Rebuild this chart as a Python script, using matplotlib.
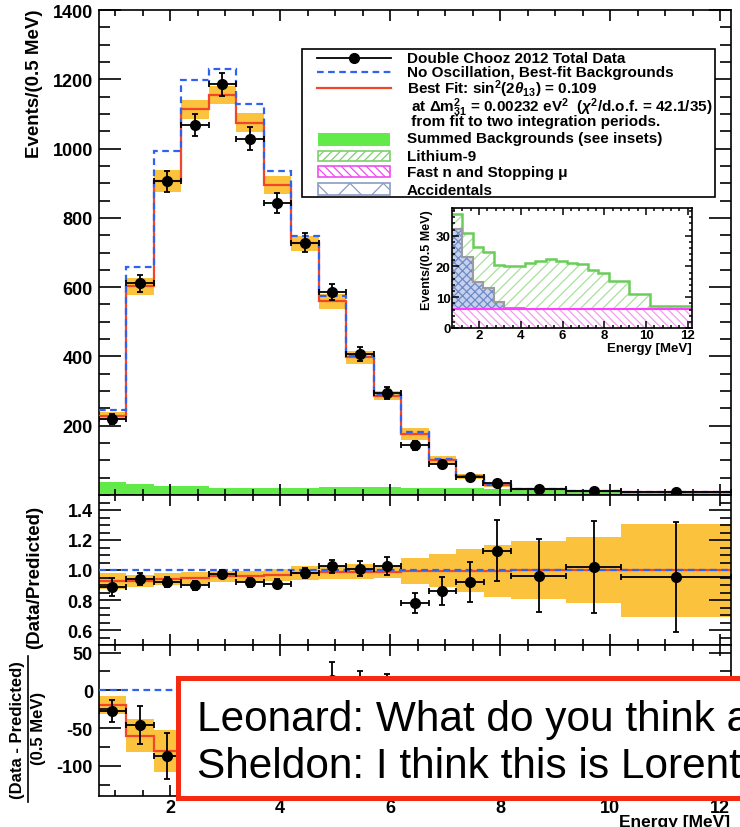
import numpy as np
import matplotlib
matplotlib.use('Agg')
import matplotlib.pyplot as plt
from matplotlib.patches import Rectangle
from matplotlib.lines import Line2D
from matplotlib.ticker import MultipleLocator, FuncFormatter

plt.rcParams['font.family'] = ['Liberation Sans', 'DejaVu Sans']
plt.rcParams['font.weight'] = 'bold'
plt.rcParams['mathtext.fontset'] = 'custom'
plt.rcParams['mathtext.rm'] = 'Liberation Sans:bold'
plt.rcParams['mathtext.it'] = 'Liberation Sans:bold:italic'
plt.rcParams['mathtext.bf'] = 'Liberation Sans:bold'
plt.rcParams['hatch.linewidth'] = 0.9
plt.rcParams['axes.linewidth'] = 1.2

# energy bins in MeV (last three are wider)
edges = [0.7, 1.2, 1.7, 2.2, 2.7, 3.2, 3.7, 4.2, 4.7, 5.2, 5.7, 6.2, 6.7,
         7.2, 7.7, 8.2, 9.2, 10.2, 12.2]

# top panel: events / 0.5 MeV
data_counts = [219, 611, 906, 1068, 1185, 1029, 843, 728, 586, 408, 294, 143,
               89, 53, 34, 16.5, 12.5, 9.6]
data_err = [15, 25, 30, 33, 34, 32, 29, 27, 24, 20, 17, 12, 9.5, 7, 6, 4, 3.5, 3]
no_osc = [246, 657, 993, 1199, 1229, 1128, 935, 747, 573, 402, 289, 183, 103,
          55, 30, 18, 12, 9.5]
best_fit = [228, 602, 906, 1113, 1155, 1075, 896, 726, 559, 398, 287, 177, 101,
            54, 29, 18, 12, 9.5]
fit_syst = [12, 24, 31, 28, 27, 27, 26, 23, 22, 19, 14, 17, 11, 8, 5, 3.5, 3, 3]

# backgrounds (inset), events / 0.5 MeV
li9_top = [37.0, 31.0, 26.3, 24.7, 20.4, 20.1, 20.1, 21.2, 21.7, 22.3, 21.7,
           21.2, 20.7, 19.0, 17.9, 15.2, 11.1, 7.2]
acc_top = [32.1, 23.1, 15.0, 13.0, 8.3, 6.6, 6.5]
fast_n = [6.1, 6.1, 6.1, 6.1, 6.1, 6.1, 6.1, 6.1, 6.1, 6.1, 6.1, 6.1, 6.1,
          6.1, 6.1, 6.1, 6.1, 6.1]

# middle panel: data / predicted
ratio_data = [0.887, 0.94, 0.92, 0.898, 0.973, 0.918, 0.909, 0.98, 1.025, 1.007,
              1.027, 0.78, 0.86, 0.92, 1.13, 0.962, 1.02, 0.951]
ratio_err = [0.06, 0.038, 0.031, 0.028, 0.027, 0.029, 0.031, 0.036, 0.045, 0.05,
             0.06, 0.067, 0.095, 0.133, 0.205, 0.245, 0.305, 0.367]
ratio_fit = [0.927, 0.927, 0.94, 0.944, 0.957, 0.957, 0.97, 0.98, 0.985, 0.99,
             0.99, 0.995, 0.995, 0.995, 0.995, 1.0, 1.0, 1.0]
ratio_syst = [0.055, 0.04, 0.04, 0.04, 0.037, 0.037, 0.04, 0.045, 0.045, 0.048,
              0.042, 0.087, 0.11, 0.144, 0.173, 0.195, 0.222, 0.31]

# bottom panel: data - predicted
resid_data = [-28, -46, -87, -131, -44, -99, -92, -19, 13, 6, 5, -40, -14, -5,
              4, -1, 0, -0.5]
resid_err = [14.5, 25, 30, 33, 34, 32, 29, 27, 24, 20, 17, 12, 9.5, 7, 6, 4, 4, 3]
resid_fit = [-20, -60, -80, -86, -72, -53, -39, -21, -14, -4, -2, -4, -2, -1,
             0, 0, 0, 0]
resid_syst = [12, 22, 28, 28, 27, 27, 26, 23, 22, 19, 13, 16, 11, 8, 5, 3.5, 3, 3]

orange = '#FBC23E'
red = '#F2462B'
blue = '#2F62EE'
green = '#62EA4A'
dash = (0, (3, 2))

e = np.array(edges)
centers = (e[:-1] + e[1:]) / 2
half = (e[1:] - e[:-1]) / 2

W, H = 740, 828
fig = plt.figure(figsize=(7.4, 8.28), dpi=100)


def fx(x):
    return x / W


def fy(y):
    return 1 - y / H


def add_ax(x0, y0, x1, y1):
    return fig.add_axes([fx(x0), fy(y1), (x1 - x0) / W, (y1 - y0) / H])


def style(a, ymaj, ymin, fmt, xlabels=False):
    a.set_xlim(0.7, 12.2)
    a.xaxis.set_major_locator(MultipleLocator(2))
    a.xaxis.set_minor_locator(MultipleLocator(0.5))
    a.yaxis.set_major_locator(MultipleLocator(ymaj))
    a.yaxis.set_minor_locator(MultipleLocator(ymin))
    a.yaxis.set_major_formatter(FuncFormatter(fmt))
    a.tick_params(which='both', direction='in', top=True, right=True,
                  width=1.2, labelsize=13)
    a.tick_params(axis='y', which='major', length=16, pad=4)
    a.tick_params(axis='y', which='minor', length=8)
    a.tick_params(axis='x', which='major', length=8, pad=2)
    a.tick_params(axis='x', which='minor', length=4.5)
    a.tick_params(axis='x', labelbottom=xlabels)


ax = add_ax(98.5, 11, 731, 496)
axr = add_ax(98.5, 496, 731, 646)
axd = add_ax(98.5, 646, 731, 797)

# ---- top panel
style(ax, 200, 50, lambda v, p: '' if abs(v) < 1e-6 else f'{v:.0f}')
ax.set_ylim(0, 1400)
bf = np.array(best_fit)
sy = np.array(fit_syst)
ax.stairs(li9_top, edges, baseline=0, fill=True, color=green, lw=0, zorder=1)
ax.stairs(bf + sy, edges, baseline=bf - sy, fill=True, color=orange, lw=0, zorder=2)
ax.stairs(best_fit, edges, baseline=None, color=red, lw=1.6, zorder=3)
ax.stairs(no_osc, edges, baseline=None, color=blue, lw=1.6, ls=dash, zorder=4)
ax.errorbar(centers, data_counts, xerr=half, yerr=data_err, fmt='o', color='k',
            ms=7, capsize=2.5, elinewidth=1.3, capthick=1.3, zorder=5)

# ---- ratio panel
style(axr, 0.2, 0.05, lambda v, p: f'{v:.1f}')
axr.set_ylim(0.5, 1.5)
rf = np.array(ratio_fit)
rs = np.array(ratio_syst)
axr.stairs(rf + rs, edges, baseline=rf - rs, fill=True, color=orange, lw=0, zorder=1)
axr.stairs(ratio_fit, edges, baseline=None, color=red, lw=1.6, zorder=2)
axr.axhline(1.0, color=blue, lw=1.6, ls=dash, zorder=3)
axr.errorbar(centers, ratio_data, xerr=half, yerr=ratio_err, fmt='o', color='k',
             ms=7, capsize=2.5, elinewidth=1.3, capthick=1.3, zorder=5)

# ---- residual panel
style(axd, 50, 25, lambda v, p: f'{v:.0f}', xlabels=True)
axd.set_ylim(-140, 60)
df = np.array(resid_fit)
ds = np.array(resid_syst)
axd.stairs(df + ds, edges, baseline=df - ds, fill=True, color=orange, lw=0, zorder=1)
axd.stairs(resid_fit, edges, baseline=None, color=red, lw=1.6, zorder=2)
axd.axhline(0, color=blue, lw=1.6, ls=dash, zorder=3)
axd.errorbar(centers, resid_data, xerr=half, yerr=resid_err, fmt='o', color='k',
             ms=7, capsize=2.5, elinewidth=1.3, capthick=1.3, zorder=5)

# ---- axis titles
fig.text(fx(35), fy(10), 'Events/(0.5 MeV)', rotation=90, ha='center', va='top',
         fontsize=13.5)
fig.text(fx(35), fy(577), '(Data/Predicted)', rotation=90, ha='center',
         va='center', fontsize=13.5)
fig.text(fx(18), fy(730), '(Data - Predicted)', rotation=90, ha='center',
         va='center', fontsize=12)
fig.add_artist(Line2D([fx(27.5), fx(27.5)], [fy(657), fy(803)], color='k',
                      lw=1.2, transform=fig.transFigure))
fig.text(fx(39), fy(728), '(0.5 MeV)', rotation=90, ha='center', va='center',
         fontsize=12)
fig.text(fx(730), fy(815), 'Energy [MeV]', ha='right', va='top', fontsize=12.5)

# ---- inset with the background components
axi = add_ax(452, 209, 692, 329)
axi.set_xlim(0.7, 12.2)
axi.set_ylim(0, 39)
axi.stairs(li9_top, edges, baseline=0, fill=True, facecolor='white',
           edgecolor='#A9DF9E', hatch='///', lw=0)
axi.stairs(li9_top, edges, baseline=None, color='#6ACD5A', lw=1.8)
axi.stairs(acc_top, edges[:8], baseline=0, fill=True, facecolor='#C6D2EC',
           edgecolor='#6E8ACA', hatch='xxxx', lw=0)
axi.stairs(acc_top, edges[:8], baseline=None, color='#9C9C9C', lw=1.5)
axi.stairs(fast_n, edges, baseline=0, fill=True, facecolor='white',
           edgecolor='#F29CF0', hatch='\\\\\\\\', lw=0)
axi.stairs(fast_n, edges, baseline=None, color='#FF3CFF', lw=1.5)
axi.xaxis.set_major_locator(MultipleLocator(2))
axi.xaxis.set_minor_locator(MultipleLocator(0.4))
axi.yaxis.set_major_locator(MultipleLocator(10))
axi.yaxis.set_minor_locator(MultipleLocator(2))
axi.tick_params(which='both', direction='in', top=True, right=True, width=1.1,
                labelsize=9.5, pad=1)
axi.tick_params(which='major', length=5)
axi.tick_params(which='minor', length=2.5)
fig.text(fx(692), fy(343), 'Energy [MeV]', ha='right', va='top', fontsize=9.5)
fig.text(fx(427), fy(210), 'Events/(0.5 MeV)', rotation=90, ha='center',
         va='top', fontsize=9)

# ---- legend
leg = Rectangle((fx(302), fy(198)), (715 - 302) / W, (198 - 50) / H,
                transform=fig.transFigure, facecolor='white', edgecolor='k',
                lw=1.2, zorder=6)
fig.add_artist(leg)
fig.add_artist(Line2D([fx(317), fx(391)], [fy(59), fy(59)], color='k', lw=1.3,
                      transform=fig.transFigure, zorder=7))
fig.add_artist(Line2D([fx(354)], [fy(59)], color='k', marker='o', ms=7,
                      transform=fig.transFigure, zorder=7))
fig.add_artist(Line2D([fx(317), fx(391)], [fy(73), fy(73)], color=blue, lw=1.6,
                      ls=dash, transform=fig.transFigure, zorder=7))
fig.add_artist(Line2D([fx(317), fx(391)], [fy(89), fy(89)], color=red, lw=1.6,
                      transform=fig.transFigure, zorder=7))


def leg_box(y0, y1, **kw):
    fig.add_artist(Rectangle((fx(318), fy(y1)), (390 - 318) / W, (y1 - y0) / H,
                             transform=fig.transFigure, zorder=7, **kw))


leg_box(134, 147, facecolor=green, edgecolor=green, lw=0)
leg_box(152, 162, facecolor='white', edgecolor='#7DCF6E', hatch='////', lw=1.2)
leg_box(167, 178, facecolor='white', edgecolor='#F04CF0', hatch='\\\\\\\\', lw=1.2)
leg_box(184, 196, facecolor='white', edgecolor='#8A9CC4', hatch='x', lw=1.2)

leg_rows = [
    (59, 'Double Chooz 2012 Total Data'),
    (73, 'No Oscillation, Best-fit Backgrounds'),
    (89, r'Best Fit: sin$^{2}$(2$\theta_{13}$) = 0.109'),
    (108, r' at $\Delta$m$^{2}_{31}$ = 0.00232 eV$^{2}$  ($\chi^{2}$/d.o.f. = 42.1/35)'),
    (122, ' from fit to two integration periods.'),
    (139, 'Summed Backgrounds (see insets)'),
    (157, 'Lithium-9'),
    (173, 'Fast n and Stopping \u03bc'),
    (191, 'Accidentals'),
]
for yy, txt in leg_rows:
    fig.text(fx(407), fy(yy), txt, ha='left', va='center', fontsize=11,
             zorder=8)

# ---- caption box over the lower panel
cap = Rectangle((fx(178), fy(798.5)), (800 - 178) / W, (798.5 - 678.5) / H,
                transform=fig.transFigure, facecolor='white', edgecolor='#F42A12',
                lw=3.6, zorder=20)
fig.add_artist(cap)
fig.text(fx(197), fy(731), 'Leonard: What do you think a', ha='left',
         va='baseline', fontsize=30.5, fontweight='normal', zorder=21)
fig.text(fx(197), fy(778), 'Sheldon: I think this is Lorent', ha='left',
         va='baseline', fontsize=30.5, fontweight='normal', zorder=21)

fig.savefig('out.png', dpi=100)
